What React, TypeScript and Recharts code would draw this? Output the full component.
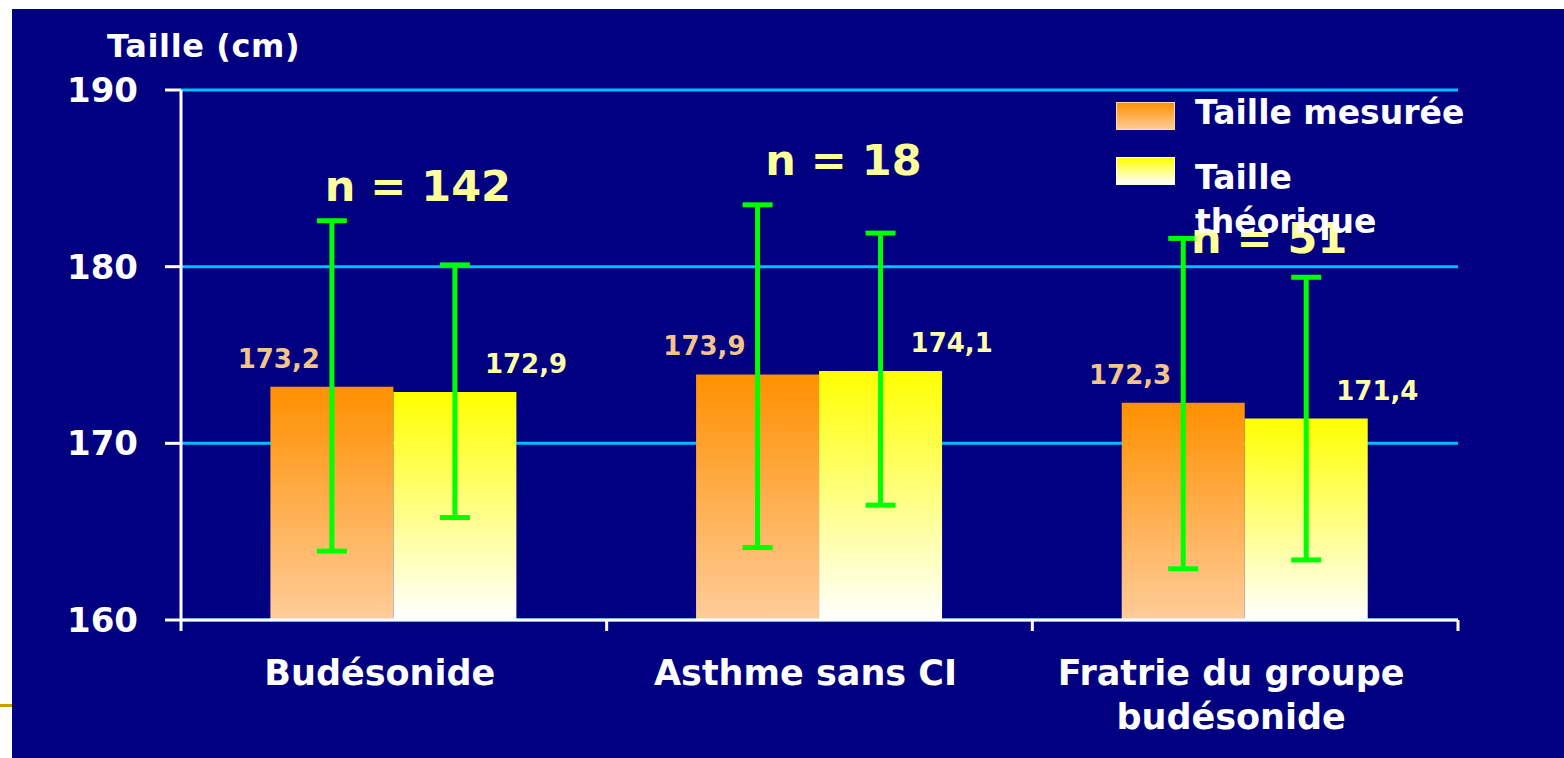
import { BarChart, Bar, XAxis, YAxis, CartesianGrid, ErrorBar, LabelList, Legend, ReferenceDot } from 'recharts';

// Data
const categories = ['Budésonide', 'Asthme sans CI', 'Fratrie du groupe\nbudésonide'];
const seriesNames = ['Taille mesurée', 'Taille théorique'];
const tailleMesuree = [173.2, 173.9, 172.3];
const tailleTheorique = [172.9, 174.1, 171.4];
// [lower, upper] deviation of each error bar
const errMesuree = [[9.3, 9.4], [9.8, 9.6], [9.4, 9.3]];
const errTheorique = [[7.1, 7.2], [7.6, 7.8], [8.0, 8.0]];
const effectifs = ['n = 142', 'n = 18', 'n = 51'];
const effectifNiveau = [183.7, 185.2, 180.8];
const yTicks = [160, 170, 180, 190];

const data = categories.map((cat, i) => ({
  cat,
  mesuree: tailleMesuree[i],
  theorique: tailleTheorique[i],
  errMesuree: errMesuree[i],
  errTheorique: errTheorique[i],
}));

const W = 1552;
const H = 749;
const MARGIN = { top: 81, right: 106, bottom: 38, left: 0 };
const Y_AXIS_W = 169;
const X_AXIS_H = 100;
const BAND = (W - MARGIN.right - Y_AXIS_W - MARGIN.left) / categories.length;

const NAVY = '#000080';
const FONT = 'DejaVu Sans';
const fmt = (v: number) => v.toFixed(1).replace('.', ',');

function CategoryTick({ x, y, payload, index }: any) {
  const lines = String(payload.value).split('\n');
  const half = BAND / 2;
  return (
    <g>
      <line x1={x - half} x2={x - half} y1={y} y2={y + 11} stroke="#fff" strokeWidth={3} />
      {index === categories.length - 1 && (
        <line x1={x + half} x2={x + half} y1={y} y2={y + 11} stroke="#fff" strokeWidth={3} />
      )}
      <text x={x - 14} y={y + 65} textAnchor="middle" fill="#fff" fontFamily={FONT} fontWeight="bold" fontSize={35}>
        {lines.map((l, i) => (
          <tspan key={i} x={x - 14} dy={i === 0 ? 0 : 44}>{l}</tspan>
        ))}
      </text>
    </g>
  );
}

function ValueLabel({ x, y, width, value, side }: any) {
  const cx = x + width / 2;
  const left = side === 'left';
  return (
    <text
      x={left ? cx - 12 : cx + 30}
      y={y - 19}
      textAnchor={left ? 'end' : 'start'}
      fill={left ? '#f5c488' : '#ffffa8'}
      fontFamily={FONT}
      fontWeight="bold"
      fontSize={26}
    >
      {fmt(Number(value))}
    </text>
  );
}

function NLabel({ viewBox, value }: any) {
  const vb = viewBox || {};
  const cx = (vb.cx ?? vb.x ?? 0) + (vb.width ? vb.width / 2 : 0);
  const cy = (vb.cy ?? vb.y ?? 0) + (vb.height ? vb.height / 2 : 0);
  return (
    <text x={cx + 24} y={cy} textAnchor="middle" fill="#ffff99" fontFamily={FONT} fontWeight="bold" fontSize={43}>
      {value}
    </text>
  );
}

function YTitle({ viewBox }: any) {
  const vb = viewBox || { x: 0, y: MARGIN.top, width: Y_AXIS_W };
  return (
    <text x={vb.x + vb.width - 74} y={vb.y - 33} fill="#fff" fontFamily={FONT} fontWeight="bold" fontSize={32} letterSpacing={0.6}>
      Taille (cm)
    </text>
  );
}

const swatches = [
  'linear-gradient(to bottom, #ff9000, #ffcc99)',
  'linear-gradient(to bottom, #ffff00, #ffffff)',
];

function LegendBox() {
  const text = { position: 'absolute' as const, left: 79, color: '#fff', fontFamily: FONT, fontWeight: 'bold' as const, fontSize: 33, lineHeight: '44px', width: 278, whiteSpace: 'normal' as const };
  const sw = { position: 'absolute' as const, left: 0, width: 59, height: 28, border: '1px solid #ffd8b0', boxSizing: 'border-box' as const };
  return (
    <div style={{ position: 'relative', width: 380, height: 150 }}>
      <div style={{ ...sw, top: 1, background: swatches[0] }} />
      <div style={{ ...text, top: -10 }}>{seriesNames[0]}</div>
      <div style={{ ...sw, top: 56, background: swatches[1], border: '1px solid #ffffe0' }} />
      <div style={{ ...text, top: 55 }}>{seriesNames[1]}</div>
    </div>
  );
}

export default function App() {
  return (
    <div style={{ position: 'absolute', left: 0, top: 0, width: 1564, height: 758, background: '#fff', overflow: 'hidden' }}>
      <div style={{ position: 'absolute', left: 0, top: 704, width: 12, height: 3, background: '#c9a000' }} />
      <div style={{ position: 'absolute', left: 12, top: 9, width: W, height: H, background: NAVY }}>
        <BarChart width={W} height={H} data={data} margin={MARGIN} barCategoryGap="21%" barGap={0}>
          <defs>
            <linearGradient id="gradMesuree" x1="0" y1="0" x2="0" y2="1">
              <stop offset="0%" stopColor="#ff9000" />
              <stop offset="100%" stopColor="#ffcc99" />
            </linearGradient>
            <linearGradient id="gradTheorique" x1="0" y1="0" x2="0" y2="1">
              <stop offset="0%" stopColor="#ffff00" />
              <stop offset="100%" stopColor="#ffffff" />
            </linearGradient>
          </defs>
          <CartesianGrid vertical={false} stroke="#00bfff" strokeWidth={3} />
          <XAxis
            dataKey="cat"
            height={X_AXIS_H}
            axisLine={{ stroke: '#fff', strokeWidth: 3 }}
            tickLine={false}
            tickSize={0}
            tickMargin={0}
            interval={0}
            tick={<CategoryTick />}
          />
          <YAxis
            width={Y_AXIS_W}
            domain={[160, 190]}
            ticks={yTicks}
            allowDataOverflow
            axisLine={{ stroke: '#fff', strokeWidth: 3 }}
            tickLine={{ stroke: '#fff', strokeWidth: 3 }}
            tickSize={16}
            tickMargin={27}
            tick={{ fill: '#fff', fontSize: 34, fontWeight: 'bold', fontFamily: FONT }}
            label={(props: any) => <YTitle {...props} />}
          />
          <Legend
            layout="vertical"
            align="center"
            verticalAlign="middle"
            wrapperStyle={{ left: 1104, top: 92, width: 380 }}
            content={() => <LegendBox />}
          />
          <Bar dataKey="mesuree" name={seriesNames[0]} fill="url(#gradMesuree)" isAnimationActive={false}>
            <LabelList dataKey="mesuree" content={(p: any) => <ValueLabel {...p} side="left" />} />
            <ErrorBar dataKey="errMesuree" width={15} stroke="#00ff00" strokeWidth={5} direction="y" />
          </Bar>
          <Bar dataKey="theorique" name={seriesNames[1]} fill="url(#gradTheorique)" isAnimationActive={false}>
            <LabelList dataKey="theorique" content={(p: any) => <ValueLabel {...p} side="right" />} />
            <ErrorBar dataKey="errTheorique" width={15} stroke="#00ff00" strokeWidth={5} direction="y" />
          </Bar>
          {categories.map((cat, i) => (
            <ReferenceDot
              key={cat}
              x={cat}
              y={effectifNiveau[i]}
              r={0}
              fill="none"
              stroke="none"
              label={(props: any) => <NLabel {...props} value={effectifs[i]} />}
            />
          ))}
        </BarChart>
      </div>
    </div>
  );
}
